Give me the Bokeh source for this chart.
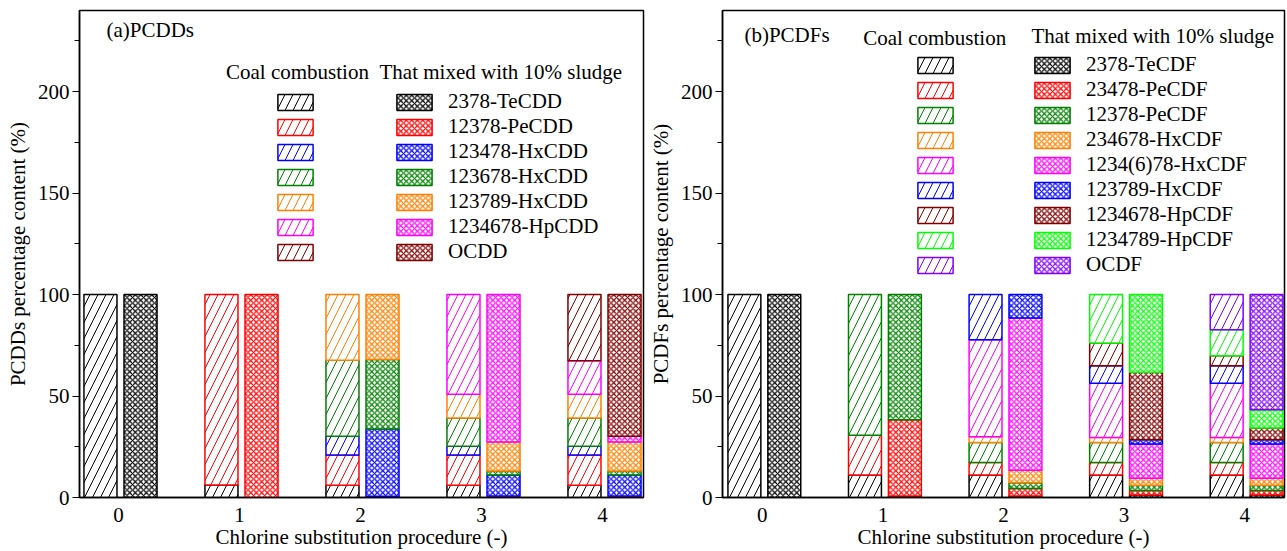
import numpy as np
from bokeh.plotting import figure
from bokeh.models import (ColumnDataSource, Range1d, FixedTicker, SingleIntervalTicker,
                          Legend, LegendItem, Label)
from bokeh.transform import dodge
from bokeh.layouts import row
from bokeh.embed import file_html
from bokeh.resources import INLINE

# ---------------- data ----------------
procedures = [0, 1, 2, 3, 4]
tick_labels = ["0", "1", "2", "3", "4"]

# (a) PCDDs, percentage of each congener, coal combustion
dd_names = ["2378-TeCDD", "12378-PeCDD", "123478-HxCDD", "123678-HxCDD",
            "123789-HxCDD", "1234678-HpCDD", "OCDD"]
dd_colors = ["#000000", "#FF0000", "#0000FF", "#008000", "#FF8000", "#FF00FF", "#800000"]
dd_coal_TeCDD    = [100, 6.2, 6.0, 6.0, 6.0]
dd_coal_PeCDD    = [0, 93.8, 14.9, 14.9, 14.9]
dd_coal_HxCDD478 = [0, 0, 9.3, 4.4, 4.4]
dd_coal_HxCDD678 = [0, 0, 37.5, 13.9, 13.9]
dd_coal_HxCDD789 = [0, 0, 32.3, 11.7, 11.7]
dd_coal_HpCDD    = [0, 0, 0, 49.1, 16.5]
dd_coal_OCDD     = [0, 0, 0, 0, 32.6]
# mixed with 10% sludge
dd_mix_TeCDD    = [100, 0, 0, 0, 0]
dd_mix_PeCDD    = [0, 100, 0.6, 0.8, 0.8]
dd_mix_HxCDD478 = [0, 0, 33.2, 10.3, 10.3]
dd_mix_HxCDD678 = [0, 0, 34.2, 1.9, 1.9]
dd_mix_HxCDD789 = [0, 0, 32.0, 14.4, 14.4]
dd_mix_HpCDD    = [0, 0, 0, 72.6, 2.8]
dd_mix_OCDD     = [0, 0, 0, 0, 69.8]

# (b) PCDFs
df_names = ["2378-TeCDF", "23478-PeCDF", "12378-PeCDF", "234678-HxCDF", "1234(6)78-HxCDF",
            "123789-HxCDF", "1234678-HpCDF", "1234789-HpCDF", "OCDF"]
df_colors = ["#000000", "#FF0000", "#008000", "#FF8000", "#FF00FF", "#0000FF",
             "#800000", "#00FF00", "#8000FF"]
df_coal_TeCDF      = [100, 11.1, 11.1, 11.1, 11.1]
df_coal_PeCDF23478 = [0, 19.6, 6.2, 6.2, 6.2]
df_coal_PeCDF12378 = [0, 69.3, 9.8, 9.8, 9.8]
df_coal_HxCDF234   = [0, 0, 2.9, 2.5, 2.5]
df_coal_HxCDF1234  = [0, 0, 47.8, 26.7, 26.7]
df_coal_HxCDF789   = [0, 0, 22.2, 8.6, 8.6]
df_coal_HpCDF678   = [0, 0, 0, 11.3, 4.9]
df_coal_HpCDF789   = [0, 0, 0, 23.8, 12.9]
df_coal_OCDF       = [0, 0, 0, 0, 17.3]

df_mix_TeCDF      = [100, 0.8, 0.8, 1.2, 1.2]
df_mix_PeCDF23478 = [0, 37.5, 3.6, 2.3, 2.3]
df_mix_PeCDF12378 = [0, 61.7, 2.9, 2.5, 2.5]
df_mix_HxCDF234   = [0, 0, 6.1, 3.5, 3.5]
df_mix_HxCDF1234  = [0, 0, 75.0, 16.9, 16.9]
df_mix_HxCDF789   = [0, 0, 11.6, 2.1, 2.1]
df_mix_HpCDF678   = [0, 0, 0, 33.2, 5.8]
df_mix_HpCDF789   = [0, 0, 0, 38.3, 8.9]
df_mix_OCDF       = [0, 0, 0, 0, 56.8]

dd_coal = [dd_coal_TeCDD, dd_coal_PeCDD, dd_coal_HxCDD478, dd_coal_HxCDD678,
           dd_coal_HxCDD789, dd_coal_HpCDD, dd_coal_OCDD]
dd_mix = [dd_mix_TeCDD, dd_mix_PeCDD, dd_mix_HxCDD478, dd_mix_HxCDD678,
          dd_mix_HxCDD789, dd_mix_HpCDD, dd_mix_OCDD]
df_coal = [df_coal_TeCDF, df_coal_PeCDF23478, df_coal_PeCDF12378, df_coal_HxCDF234,
           df_coal_HxCDF1234, df_coal_HxCDF789, df_coal_HpCDF678, df_coal_HpCDF789, df_coal_OCDF]
df_mix = [df_mix_TeCDF, df_mix_PeCDF23478, df_mix_PeCDF12378, df_mix_HxCDF234,
          df_mix_HxCDF1234, df_mix_HxCDF789, df_mix_HpCDF678, df_mix_HpCDF789, df_mix_OCDF]

# ---------------- style ----------------
FONT = "Liberation Serif"
FS = "21px"
PXU = 121.0          # px per x unit
FRAME_W = 564
FRAME_H = 490
Y_MAX = 240
COAL_OFF = -0.149
MIX_OFF = 0.182
BAR_W = 0.273


def stack(series):
    arr = np.array(series, dtype=float)
    tops = np.cumsum(arr, axis=0)
    bottoms = tops - arr
    mask = arr <= 0
    tops[mask] = np.nan
    bottoms[mask] = np.nan
    return bottoms, tops


def make_panel(width, bleft, bright, tick0_px, ylabel, coal, mix, colors, names,
               tag, tag_xy, head_coal_xy, head_mix_xy, leg_coal_x, leg_mix_x, leg_y):
    x0 = -(tick0_px) / PXU
    x1 = x0 + FRAME_W / PXU
    p = figure(width=width, height=551, output_backend="svg", toolbar_location=None,
               x_range=Range1d(x0, x1), y_range=Range1d(0, Y_MAX),
               min_border_left=bleft, min_border_right=bright,
               min_border_top=10, min_border_bottom=51)
    p.grid.visible = False
    p.outline_line_color = "black"
    p.outline_line_width = 1.5
    p.background_fill_color = "white"
    p.border_fill_color = "white"

    # axes
    p.xaxis.ticker = FixedTicker(ticks=procedures)
    p.xaxis.major_label_overrides = {i: t for i, t in zip(procedures, tick_labels)}
    p.xaxis.major_tick_line_color = None
    p.xaxis.minor_tick_line_color = None
    p.xaxis.major_label_standoff = 4
    p.xaxis.axis_label = "Chlorine substitution procedure (-)"
    p.xaxis.axis_label_standoff = 0
    p.yaxis.ticker = SingleIntervalTicker(interval=50, num_minor_ticks=2)
    p.yaxis.major_tick_out = 7
    p.yaxis.major_tick_in = 0
    p.yaxis.minor_tick_out = 5
    p.yaxis.minor_tick_in = 0
    p.yaxis.major_label_standoff = 3
    p.yaxis.axis_label = ylabel
    p.yaxis.axis_label_standoff = 5
    for ax in (p.xaxis, p.yaxis):
        ax.axis_line_width = 1.5
        ax.major_tick_line_width = 1.2
        ax.minor_tick_line_width = 1.2
        ax.major_label_text_font = FONT
        ax.major_label_text_font_size = FS
        ax.major_label_text_color = "black"
        ax.axis_label_text_font = FONT
        ax.axis_label_text_font_size = FS
        ax.axis_label_text_font_style = "normal"
        ax.axis_label_text_color = "black"

    cb, ct = stack(coal)
    mb, mt = stack(mix)
    coal_r, mix_r = [], []
    for i, c in enumerate(colors):
        s1 = ColumnDataSource(dict(x=procedures, bottom=cb[i], top=ct[i]))
        r1 = p.vbar(x=dodge("x", COAL_OFF), width=BAR_W, bottom="bottom", top="top",
                    source=s1, fill_color="white", line_color=c, line_width=1.5,
                    hatch_pattern="right_diagonal_line", hatch_color=c,
                    hatch_scale=16, hatch_weight=1.0)
        s2 = ColumnDataSource(dict(x=procedures, bottom=mb[i], top=mt[i]))
        r2 = p.vbar(x=dodge("x", MIX_OFF), width=BAR_W, bottom="bottom", top="top",
                    source=s2, fill_color="white", line_color=c, line_width=1.5,
                    hatch_pattern="diagonal_cross", hatch_color=c,
                    hatch_scale=5.5, hatch_weight=1.2)
        coal_r.append(r1)
        mix_r.append(r2)

    common = dict(orientation="vertical", glyph_width=44, glyph_height=20,
                  label_height=25, spacing=0, padding=0, margin=0,
                  border_line_color=None, background_fill_alpha=0,
                  label_text_font=FONT, label_text_font_size=FS,
                  label_text_color="black")
    lc = Legend(items=[LegendItem(label=" ", renderers=[r]) for r in coal_r],
                location=(leg_coal_x, leg_y), label_standoff=0, **common)
    lm = Legend(items=[LegendItem(label=n, renderers=[r]) for n, r in zip(names, mix_r)],
                location=(leg_mix_x, leg_y), label_standoff=12, **common)
    p.add_layout(lc)
    p.add_layout(lm)

    def lab(txt, xy, align):
        px, py = xy
        p.add_layout(Label(x=x0 + px / PXU, y=(FRAME_H - py) * Y_MAX / FRAME_H,
                           text=txt, text_font=FONT, text_font_size=FS,
                           text_align=align, text_baseline="middle", text_color="black"))
    lab(tag, tag_xy, "left")
    lab("Coal combustion", head_coal_xy, "center")
    lab("That mixed with 10% sludge", head_mix_xy, "left")
    return p


# positions are in px relative to frame top-left
p1 = make_panel(645, 79, 2, 39, "PCDDs percentage content (%)", dd_coal, dd_mix,
                dd_colors, dd_names, "(a)PCDDs", (27, 20), (218, 62), (300, 62),
                194, 313, 233)
p2 = make_panel(642, 75, 3, 40, "PCDFs percentage content (%)", df_coal, df_mix,
                df_colors, df_names, "(b)PCDFs", (22, 25), (213, 28), (310, 26),
                191, 308, 220)

layout = row(p1, p2)
open("out.html", "w").write(file_html(layout, INLINE))
